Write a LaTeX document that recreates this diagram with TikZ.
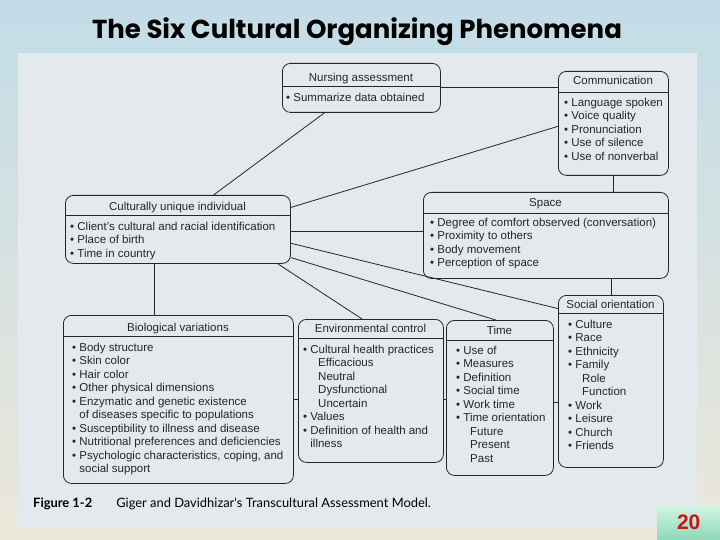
\documentclass[tikz,border=0pt]{standalone}
\usepackage{fontspec}
\setmainfont{Liberation Sans}
\newfontfamily\titlefont{Poppins}
\newfontfamily\capfont{Lato}
\usetikzlibrary{positioning}

\definecolor{bgtop}{HTML}{C2DCE7}
\definecolor{bgbot}{HTML}{ECE7DA}
\definecolor{scanbg}{HTML}{E3E9EC}
\definecolor{ink}{HTML}{262626}
\definecolor{pgred}{HTML}{C81414}
\definecolor{mintlt}{HTML}{D2F5E4}
\definecolor{mintdk}{HTML}{8ED8B8}

\begin{document}
\begin{tikzpicture}[x=1pt,y=-1pt,
  box/.style={draw=ink, line width=0.8pt, rounded corners=8pt, anchor=north west, inner sep=0pt},
  head/.style={anchor=base, inner sep=0pt, text=ink, font=\fontsize{11.5}{13.5}\selectfont},
  body/.style={anchor=north west, inner sep=0pt, align=left, text=ink, font=\fontsize{11.5}{13.5}\selectfont},
  wire/.style={draw=ink, line width=0.8pt}]

% slide and scanned page
\fill[top color=bgtop, bottom color=bgbot] (0,0) rectangle (720,540);
\fill[scanbg] (18,53) rectangle (697,528);
\useasboundingbox (0,0) rectangle (720,540);

\node[font=\titlefont\bfseries\fontsize{26}{30}\selectfont] (title) at (357,32) {The Six Cultural Organizing Phenomena};

% boxes
\node[box, minimum width=158pt, minimum height=49pt] (nurse) at (282,63) {};
\node[head] (nurseH) at (361,81.5) {Nursing assessment};
\draw[wire] (nurse.west |- 0,86) -- (nurse.east |- 0,86);
\node[body] (nurseL) at (286,93) {\textbullet\ Summarize data obtained};

\node[box, minimum width=110pt, minimum height=104pt] (comm) at (558,71) {};
\node[head] (commH) at (613,85) {Communication};
\draw[wire] (comm.west |- 0,92) -- (comm.east |- 0,92);
\node[body] (commL) at (564,97.5) {\textbullet\ Language spoken\\ \textbullet\ Voice quality\\ \textbullet\ Pronunciation\\ \textbullet\ Use of silence\\ \textbullet\ Use of nonverbal};

\node[box, minimum width=245pt, minimum height=86pt] (space) at (423,192) {};
\node[head] (spaceH) at (545.5,207) {Space};
\draw[wire] (space.west |- 0,213) -- (space.east |- 0,213);
\node[body] (spaceL) at (430,217.5) {\textbullet\ Degree of comfort observed (conversation)\\ \textbullet\ Proximity to others\\ \textbullet\ Body movement\\ \textbullet\ Perception of space};

\node[box, minimum width=225pt, minimum height=68pt] (indiv) at (65,195) {};
\node[head] (indivH) at (177.5,211) {Culturally unique individual};
\draw[wire] (indiv.west |- 0,215) -- (indiv.east |- 0,215);
\node[body] (indivL) at (70,221.5) {\textbullet\ Client's cultural and racial identification\\ \textbullet\ Place of birth\\ \textbullet\ Time in country};

\node[box, minimum width=230pt, minimum height=168pt] (bio) at (63,315) {};
\node[head] (bioH) at (178,331.5) {Biological variations};
\draw[wire] (bio.west |- 0,336) -- (bio.east |- 0,336);
\node[body] (bioL) at (72,342.5) {\textbullet\ Body structure\\ \textbullet\ Skin color\\ \textbullet\ Hair color\\ \textbullet\ Other physical dimensions\\
  \textbullet\ Enzymatic and genetic existence\\ \hspace*{7.2pt}of diseases specific to populations\\
  \textbullet\ Susceptibility to illness and disease\\ \textbullet\ Nutritional preferences and deficiencies\\
  \textbullet\ Psychologic characteristics, coping, and\\ \hspace*{7.2pt}social support};

\node[box, minimum width=145pt, minimum height=143pt] (env) at (298,319) {};
\node[head] (envH) at (370.5,332.5) {Environmental control};
\draw[wire] (env.west |- 0,338) -- (env.east |- 0,338);
\node[body] (envL) at (303,344.5) {\textbullet\ Cultural health practices\\ \hspace*{15pt}Efficacious\\ \hspace*{15pt}Neutral\\ \hspace*{15pt}Dysfunctional\\ \hspace*{15pt}Uncertain\\
  \textbullet\ Values\\ \textbullet\ Definition of health and\\ \hspace*{7.2pt}illness};

\node[box, minimum width=107pt, minimum height=155pt] (time) at (446,320) {};
\node[head] (timeH) at (499.5,334.5) {Time};
\draw[wire] (time.west |- 0,340) -- (time.east |- 0,340);
\node[body] (timeL) at (456,345.5) {\textbullet\ Use of\\ \textbullet\ Measures\\ \textbullet\ Definition\\ \textbullet\ Social time\\ \textbullet\ Work time\\
  \textbullet\ Time orientation\\ \hspace*{14pt}Future\\ \hspace*{14pt}Present\\ \hspace*{14pt}Past};

\node[box, minimum width=105pt, minimum height=172pt] (social) at (558,295) {};
\node[head] (socialH) at (610.5,308.5) {Social orientation};
\draw[wire] (social.west |- 0,313) -- (social.east |- 0,313);
\node[body] (socialL) at (568,319.5) {\textbullet\ Culture\\ \textbullet\ Race\\ \textbullet\ Ethnicity\\ \textbullet\ Family\\ \hspace*{14pt}Role\\ \hspace*{14pt}Function\\
  \textbullet\ Work\\ \textbullet\ Leisure\\ \textbullet\ Church\\ \textbullet\ Friends};

% connectors
\draw[wire] (nurse.east) -- (nurse.east -| comm.west);
\draw[wire] (nurse.214) -- (indiv.44);
\draw[wire] (indiv.11) -- (comm.183);
\draw[wire] (indiv.359) -- (indiv.359 -| space.west);
\draw[wire] (indiv.353) -- (social.126);
\draw[wire] (indiv.346) -- (time.93);
\draw[wire] (indiv.341) -- (env.97);
\draw[wire] (indiv.236) -- (indiv.236 |- bio.north);
\draw[wire] (comm.south) -- (comm.south |- space.north);
\draw[wire] (social.north) -- (social.north |- space.south);
\draw[wire] (bio.east) -- (bio.east -| env.west);
\draw[wire] (time.182) -- (time.182 -| env.east);
\draw[wire] (time.355) -- (time.355 -| social.west);

% caption and page number
\node[anchor=base west, inner sep=0pt, font=\capfont\fontsize{12.9}{15}\selectfont] (caption) at (33,507) {\textbf{Figure 1-2}\hspace{24pt}Giger and Davidhizar's Transcultural Assessment Model.};
\node[anchor=north west, inner sep=0pt, minimum width=63pt, minimum height=35pt, top color=mintlt, bottom color=mintdk] (pgbox) at (657,505) {};
\node[text=pgred, font=\bfseries\fontsize{21}{21}\selectfont] (pgnum) at (pgbox.center) {20};
\end{tikzpicture}
\end{document}
